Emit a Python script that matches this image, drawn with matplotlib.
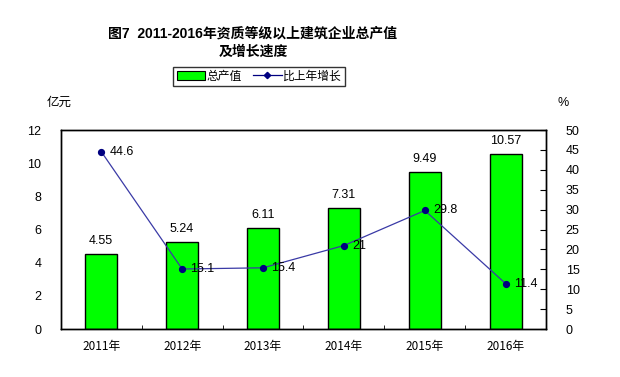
import matplotlib
matplotlib.use("Agg")
import matplotlib.pyplot as plt
from matplotlib.lines import Line2D
from matplotlib.patches import Patch

plt.rcParams['font.family'] = ['Liberation Sans', 'Noto Sans CJK SC']

years = ["2011年", "2012年", "2013年", "2014年", "2015年", "2016年"]
output = [4.55, 5.24, 6.11, 7.31, 9.49, 10.57]
growth = [44.6, 15.1, 15.4, 21, 29.8, 11.4]
growth_labels = ["44.6", "15.1", "15.4", "21", "29.8", "11.4"]

fig = plt.figure(figsize=(6.2, 3.77), dpi=100)
ax = fig.add_axes([0.098, 0.127, 0.783, 0.528])
ax2 = ax.twinx()

x = list(range(len(years)))
bars = ax.bar(x, output, width=0.4, color="#00ff00", edgecolor="black",
              linewidth=1.0, zorder=2)
for xi, v in zip(x, output):
    ax.annotate(f"{v:.2f}", (xi, v), xytext=(0, 5), textcoords="offset points",
                ha="center", va="bottom", fontsize=9)

ax.set_xlim(-0.5, 5.5)
ax.set_ylim(0, 12)
ax.set_yticks(range(0, 13, 2))
ax.set_xticks(x)
ax.set_xticklabels(years, fontsize=8.5, family=['Noto Sans CJK SC'])
ax.set_xticks([i + 0.5 for i in x[:-1]], minor=True)
ax.tick_params(axis='x', which='major', length=0, pad=8)
ax.tick_params(axis='x', which='minor', direction='in', length=3)
ax.tick_params(axis='y', length=0, labelsize=9, pad=14)

ax2.plot(x, growth, color="#3a3aa6", linewidth=0.9, marker='o',
         markersize=4.2, markerfacecolor="#000080", markeredgecolor="#000080",
         zorder=3)
for xi, v, lab in zip(x, growth, growth_labels):
    ax2.annotate(lab, (xi, v), xytext=(6, 0), textcoords="offset points",
                 ha="left", va="center", fontsize=9)
ax2.set_ylim(0, 50)
ax2.set_yticks(range(0, 51, 5))
ax2.tick_params(axis='y', direction='in', length=4, labelsize=9, pad=14)

for a in (ax, ax2):
    for s in a.spines.values():
        s.set_linewidth(1.0)

fig.text(0.095, 0.72, "亿元", fontsize=9, ha="center")
fig.text(0.908, 0.72, "%", fontsize=9, ha="center")

fig.text(0.408, 0.912, "图7  2011-2016年资质等级以上建筑企业总产值",
         fontsize=10, weight="bold", ha="center", va="center")
fig.text(0.408, 0.864, "及增长速度", fontsize=10, weight="bold",
         ha="center", va="center")

handles = [Patch(facecolor="#00ff00", edgecolor="black", linewidth=0.8),
           Line2D([0], [0], color="#000080", linewidth=0.9, marker='D',
                  markersize=3.2)]
fig.legend(handles, ["总产值", "比上年增长"], loc="center",
           bbox_to_anchor=(0.418, 0.797), ncol=2, fontsize=8.5, frameon=True,
           fancybox=False, edgecolor="black", handlelength=2.4,
           handleheight=0.7, columnspacing=1.0, borderpad=0.3,
           handletextpad=0.1, borderaxespad=0)

fig.savefig("out.png", dpi=100)
